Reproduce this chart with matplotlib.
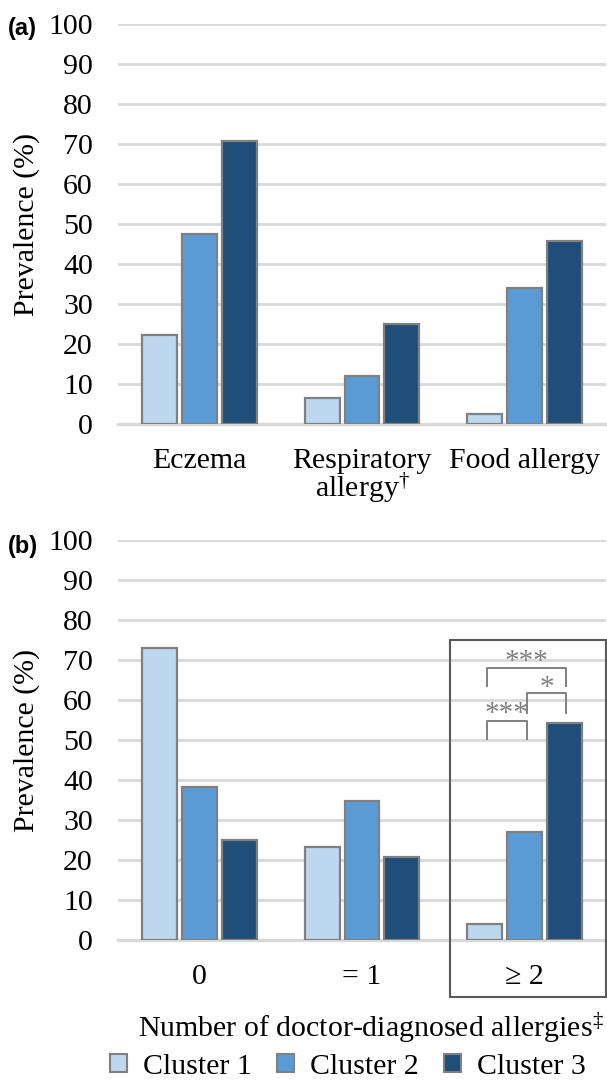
import matplotlib
matplotlib.use("Agg")
import matplotlib.pyplot as plt
import numpy as np
from matplotlib.patches import Patch, Rectangle

plt.rcParams["mathtext.fontset"] = "custom"
plt.rcParams["mathtext.rm"] = "Liberation Serif"
plt.rcParams["mathtext.it"] = "Liberation Serif"
plt.rcParams["mathtext.bf"] = "Liberation Serif"

# ---- data ----
cats_a = ["Eczema", "Respiratory\nallergy$^{\u2020}$", "Food allergy"]
cluster1_a = [22.3, 6.5, 2.5]
cluster2_a = [47.5, 12.0, 34.0]
cluster3_a = [70.8, 25.0, 45.8]

cats_b = ["0", "= 1", "\u2265 2"]
cluster1_b = [73.0, 23.2, 4.0]
cluster2_b = [38.3, 34.8, 27.0]
cluster3_b = [25.0, 20.8, 54.2]

series_names = ["Cluster 1", "Cluster 2", "Cluster 3"]
yticks = [0, 10, 20, 30, 40, 50, 60, 70, 80, 90, 100]
xlabel_b = "Number of doctor-diagnosed allergies$^{\u2021}$"
ylabel = "Prevalence (%)"

# ---- style ----
colors = ["#bdd7ee", "#5b9bd5", "#1f4e79"]
edge = "#808080"
grid_c = "#d9d9d9"
serif = "Liberation Serif"
FS = 21.5

W, H = 607, 1083
fig = plt.figure(figsize=(W / 100, H / 100), dpi=100)

def ax_rect(left, top, right, bottom):
    return [left / W, 1 - bottom / H, (right - left) / W, (bottom - top) / H]

ax_a = fig.add_axes(ax_rect(118, 24, 606, 424))
ax_b = fig.add_axes(ax_rect(118, 540, 606, 940))

offsets = [-0.245, 0.0, 0.245]
bw = 0.215

def draw(ax, cats, s1, s2, s3):
    x = np.arange(len(cats))
    for i, (vals, c) in enumerate(zip([s1, s2, s3], colors)):
        ax.bar(x + offsets[i], vals, width=bw, color=c, edgecolor=edge,
               linewidth=1.6, zorder=3, label=series_names[i])
    ax.set_xlim(-0.5, len(cats) - 0.5)
    ax.set_ylim(0, 100)
    ax.set_yticks(yticks)
    ax.set_yticklabels([str(t) for t in yticks], fontfamily=serif, fontsize=FS)
    ax.set_xticks(x)
    ax.set_xticklabels(cats, fontfamily=serif, fontsize=FS, linespacing=0.9)
    ax.tick_params(axis="y", length=0, pad=18)
    ax.tick_params(axis="x", length=0, pad=17)
    ax.yaxis.grid(True, color=grid_c, linewidth=2.0, zorder=0)
    ax.set_axisbelow(True)
    for s in ["top", "right", "left"]:
        ax.spines[s].set_visible(False)
    ax.spines["bottom"].set_color(grid_c)
    ax.spines["bottom"].set_linewidth(2.4)
    ax.spines["bottom"].set_zorder(2)
    ax.set_ylabel(ylabel, fontfamily=serif, fontsize=FS, labelpad=6)
    return x

draw(ax_a, cats_a, cluster1_a, cluster2_a, cluster3_a)
xb = draw(ax_b, cats_b, cluster1_b, cluster2_b, cluster3_b)

# panel labels
fig.text(8 / W, 1 - 28 / H, "(a)", fontfamily="Liberation Sans", fontweight="bold",
         fontsize=17, va="center", ha="left")
fig.text(8 / W, 1 - 547 / H, "(b)", fontfamily="Liberation Sans", fontweight="bold",
         fontsize=17, va="center", ha="left")

# highlight box around >=2 group
box = Rectangle((1.543, -14.3), 2.497 - 1.543, 75.0 + 14.3, fill=False,
                edgecolor="#595959", linewidth=1.5, clip_on=False, zorder=5)
ax_b.add_patch(box)

# significance brackets
g = 2
xc1 = xb[g] + offsets[0] + 0.012
xc2 = xb[g] + offsets[1] + 0.012
xc3 = xb[g] + offsets[2] + 0.012
bc = "#808080"

def bracket(x0, x1, ytop, ybot, txt, ytxt):
    ax_b.plot([x0, x0, x1, x1], [ybot, ytop, ytop, ybot], color=bc,
              linewidth=1.4, clip_on=False, zorder=6)
    ax_b.text((x0 + x1) / 2, ytxt, txt, ha="center", va="center",
              fontfamily=serif, fontsize=21, color=bc, zorder=6)

bracket(xc1, xc3, 68.0, 63.5, "***", 69.6)
bracket(xc2, xc3, 61.8, 56.8, "*", 63.0)
bracket(xc1, xc2, 54.8, 50.3, "***", 56.4)

# x label for panel b
fig.text(371 / W, 1 - 1028 / H, xlabel_b, fontfamily=serif, fontsize=FS,
         ha="center", va="center")

# legend
handles = [Patch(facecolor=c, edgecolor=edge, linewidth=1.5) for c in colors]
fig.legend(handles, series_names, loc="center", bbox_to_anchor=(348 / W, 1 - 1067 / H),
           ncol=3, frameon=False, prop={"family": serif, "size": FS},
           handlelength=0.55, handleheight=0.55, handletextpad=0.55,
           columnspacing=0.85, borderpad=0, borderaxespad=0)

fig.savefig("out.png", dpi=100)
